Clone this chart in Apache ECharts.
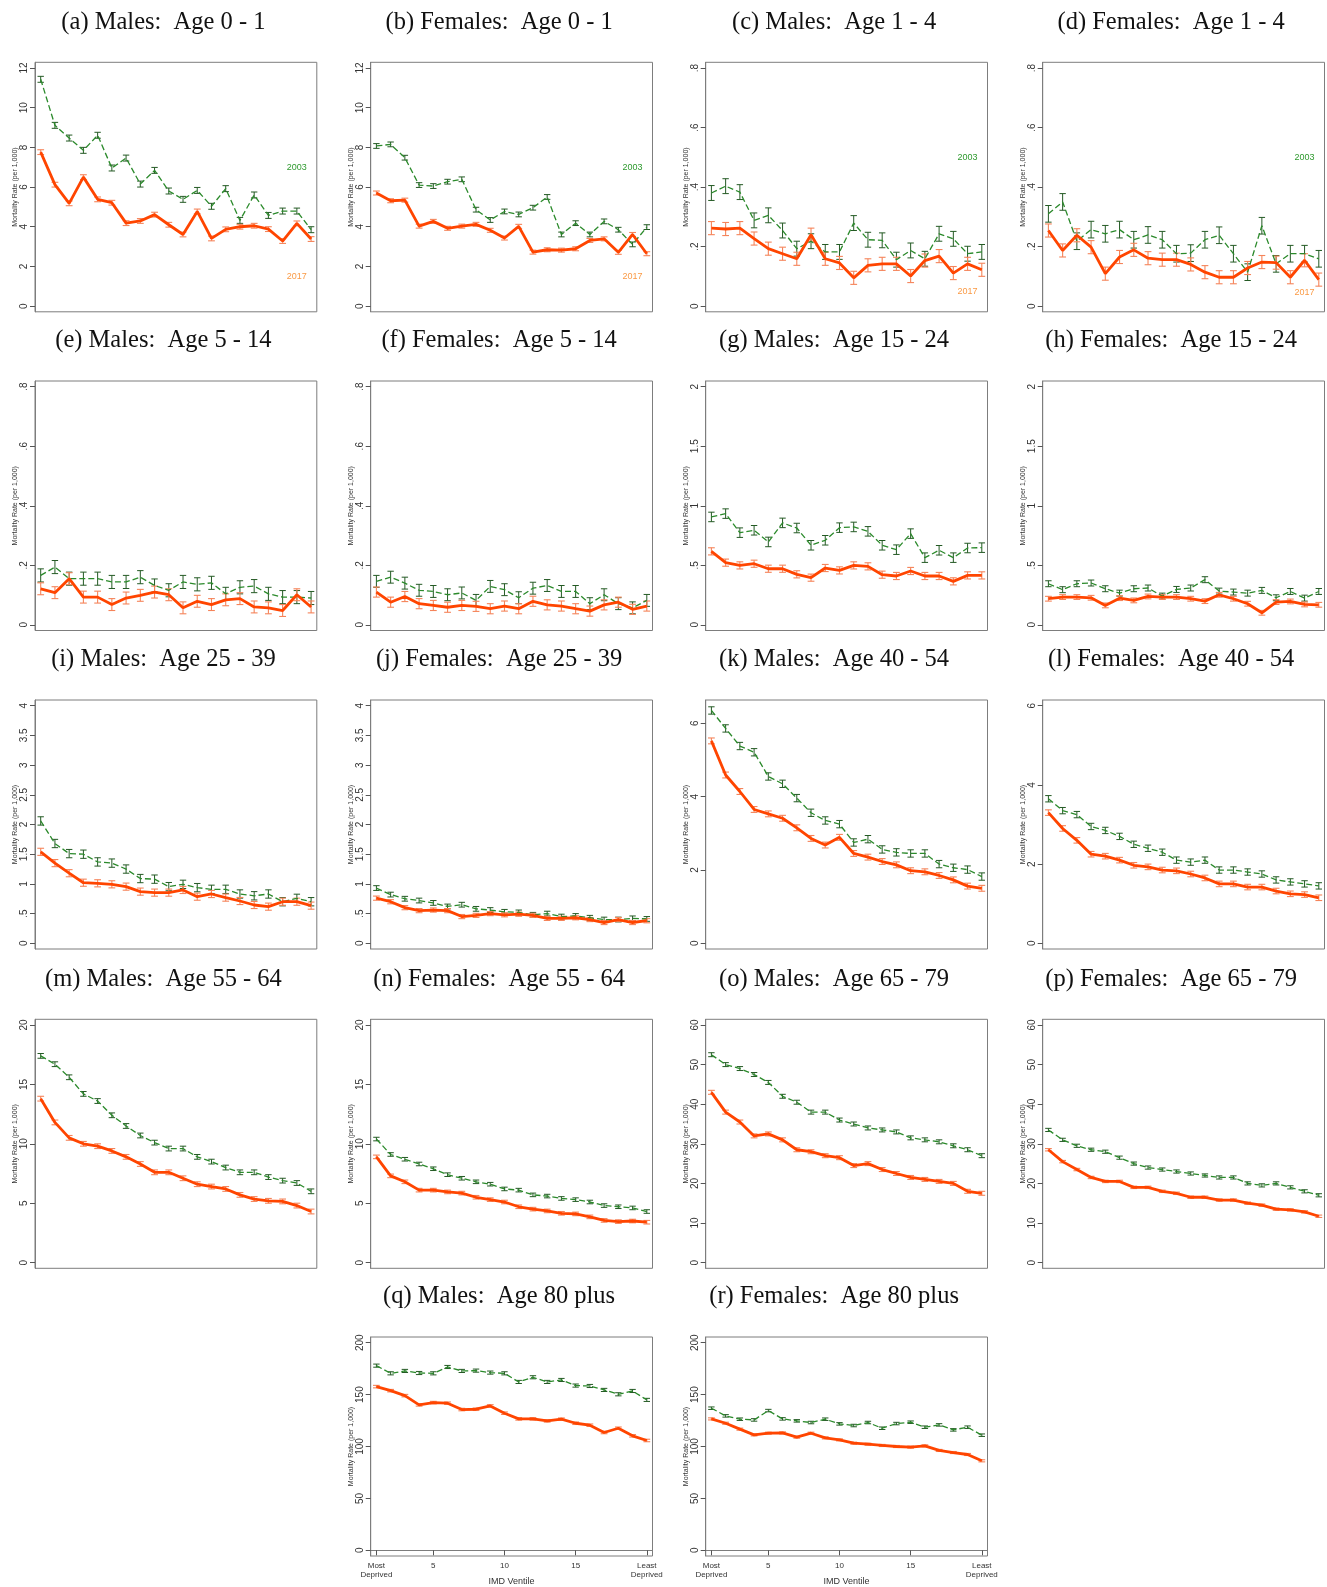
<!DOCTYPE html>
<html><head><meta charset="utf-8">
<script src="https://cdn.jsdelivr.net/npm/echarts@6/dist/echarts.min.js"></script>
<style>html,body{margin:0;padding:0;background:#fff}#c{width:1327px;height:1587px}</style>
</head><body><div id="c"></div>
<script>
// ---------- DATA ----------
const ventiles = [1,2,3,4,5,6,7,8,9,10,11,12,13,14,15,16,17,18,19,20];
const titles = [
  '(a) Males:  Age 0 - 1','(b) Females:  Age 0 - 1','(c) Males:  Age 1 - 4','(d) Females:  Age 1 - 4',
  '(e) Males:  Age 5 - 14','(f) Females:  Age 5 - 14','(g) Males:  Age 15 - 24','(h) Females:  Age 15 - 24',
  '(i) Males:  Age 25 - 39','(j) Females:  Age 25 - 39','(k) Males:  Age 40 - 54','(l) Females:  Age 40 - 54',
  '(m) Males:  Age 55 - 64','(n) Females:  Age 55 - 64','(o) Males:  Age 65 - 79','(p) Females:  Age 65 - 79',
  '(q) Males:  Age 80 plus','(r) Females:  Age 80 plus'
];
const a2003 = [11.43,9.11,8.47,7.85,8.61,6.96,7.46,6.15,6.84,5.80,5.38,5.83,5.03,5.92,4.32,5.60,4.57,4.79,4.79,3.85];
const a2017 = [7.76,6.12,5.18,6.50,5.38,5.21,4.18,4.29,4.61,4.10,3.61,4.77,3.41,3.87,4.00,4.05,3.88,3.28,4.17,3.38];
const b2003 = [8.07,8.15,7.48,6.10,6.05,6.27,6.39,4.86,4.34,4.77,4.62,4.96,5.50,3.61,4.18,3.61,4.27,3.85,3.11,3.98];
const b2017 = [5.70,5.31,5.34,4.03,4.27,3.92,4.03,4.12,3.82,3.43,4.02,2.72,2.84,2.82,2.89,3.31,3.39,2.71,3.61,2.64];
const c2003 = [.380,.403,.383,.288,.305,.254,.193,.218,.182,.182,.279,.223,.221,.156,.187,.159,.243,.226,.176,.182];
const c2017 = [.262,.259,.262,.227,.193,.176,.159,.240,.159,.145,.095,.137,.142,.142,.101,.153,.168,.111,.142,.122];
const d2003 = [.31,.35,.218,.257,.243,.257,.223,.239,.223,.176,.178,.223,.238,.176,.114,.27,.142,.176,.176,.159];
const d2017 = [.254,.187,.238,.198,.109,.165,.189,.161,.156,.156,.140,.114,.097,.097,.128,.148,.146,.097,.154,.089];
const e2003 = [.166,.194,.155,.155,.155,.144,.144,.160,.132,.116,.144,.136,.141,.104,.126,.13,.104,.093,.093,.09];
const e2017 = [.121,.108,.155,.093,.093,.068,.09,.099,.11,.101,.057,.079,.068,.084,.088,.06,.057,.048,.101,.06];
const f2003 = [.146,.16,.14,.116,.112,.101,.107,.082,.129,.118,.091,.123,.132,.112,.112,.071,.101,.071,.057,.082];
const f2017 = [.11,.076,.095,.071,.065,.059,.065,.062,.054,.063,.054,.079,.067,.063,.054,.046,.067,.076,.052,.063];
const g2003 = [.906,.934,.774,.794,.696,.856,.813,.668,.71,.816,.822,.785,.668,.631,.766,.564,.626,.564,.645,.648];
const g2017 = [.617,.522,.499,.513,.471,.471,.424,.396,.477,.457,.499,.491,.421,.41,.452,.41,.41,.365,.415,.415];
const h2003 = [.345,.295,.345,.351,.303,.266,.303,.309,.241,.297,.309,.379,.283,.275,.266,.289,.227,.28,.224,.28];
const h2017 = [.219,.233,.233,.227,.163,.224,.205,.238,.233,.233,.219,.199,.252,.219,.177,.101,.191,.196,.171,.168];
const i2003 = [2.06,1.68,1.51,1.50,1.37,1.35,1.25,1.09,1.08,.954,.993,.937,.909,.909,.83,.80,.83,.70,.757,.70];
const i2017 = [1.54,1.35,1.18,1.02,1.01,.993,.954,.87,.853,.853,.898,.785,.83,.769,.712,.645,.617,.70,.70,.634];
const j2003 = [.93,.82,.75,.72,.68,.62,.65,.58,.56,.53,.52,.48,.50,.45,.46,.43,.40,.40,.42,.41];
const j2017 = [.76,.70,.60,.55,.56,.55,.45,.47,.50,.48,.49,.47,.42,.42,.43,.40,.35,.40,.35,.38];
const k2003 = [6.35,5.86,5.38,5.21,4.55,4.35,3.96,3.56,3.35,3.25,2.75,2.84,2.56,2.48,2.45,2.45,2.16,2.06,2.01,1.82];
const k2017 = [5.52,4.59,4.14,3.65,3.53,3.41,3.15,2.86,2.68,2.89,2.45,2.35,2.23,2.14,1.98,1.95,1.85,1.73,1.56,1.50];
const l2003 = [3.65,3.35,3.25,2.95,2.85,2.7,2.5,2.4,2.3,2.1,2.05,2.1,1.85,1.85,1.8,1.75,1.6,1.55,1.5,1.45];
const l2017 = [3.3,2.9,2.6,2.25,2.2,2.1,1.97,1.93,1.85,1.83,1.75,1.65,1.5,1.5,1.42,1.42,1.32,1.25,1.23,1.15];
const m2003 = [17.4,16.7,15.6,14.2,13.6,12.4,11.5,10.7,10.1,9.6,9.6,8.9,8.5,8.0,7.6,7.6,7.2,6.9,6.7,6.0];
const m2017 = [13.8,11.8,10.5,10.0,9.8,9.4,8.9,8.3,7.6,7.6,7.1,6.6,6.4,6.2,5.7,5.35,5.2,5.15,4.8,4.3];
const n2003 = [10.4,9.1,8.7,8.3,7.9,7.4,7.1,6.8,6.6,6.2,6.1,5.7,5.6,5.4,5.3,5.1,4.8,4.7,4.6,4.3];
const n2017 = [8.9,7.3,6.8,6.1,6.1,5.95,5.85,5.5,5.3,5.1,4.7,4.5,4.35,4.15,4.1,3.85,3.55,3.45,3.5,3.4];
const o2003 = [52.5,50,49,47.5,45.5,42,40.5,38,38,36,35,34,33.5,33,31.5,31,30.5,29.5,28.5,27];
const o2017 = [43,38,35.5,32,32.5,31,28.5,28,27,26.5,24.5,25,23.5,22.5,21.5,21,20.5,20,18,17.5];
const p2003 = [33.5,31,29.5,28.5,28,26.5,25,24,23.5,23,22.5,22,21.5,21.5,20,19.5,20,19,18,17];
const p2017 = [28.5,25.5,23.5,21.5,20.5,20.5,19,19,18,17.5,16.5,16.5,15.8,15.8,15,14.5,13.5,13.3,12.8,11.7];
const q2003 = [177.9,170.5,172.8,170.8,170.5,176.6,172.8,173.1,171.2,170.5,162.2,166.7,162.2,164.1,158.7,158.3,154.5,150.3,153.5,144.9];
const q2017 = [157.7,153.8,149.0,140.1,142.3,141.7,135.6,135.9,139.1,132.1,126.6,126.6,124.7,126.3,122.4,120.5,113.5,117.6,110.3,105.8];
const r2003 = [136.9,129.5,126.3,125.6,134.6,126.6,124.7,123.1,126.3,121.8,120.2,123.1,117.6,122.1,123.4,118.6,120.8,116.0,118.6,110.9];
const r2017 = [126.6,122.4,116.7,111.2,112.8,113.1,109.0,112.8,108.3,106.4,103.2,102.2,101.0,100.0,99.4,100.6,96.2,94.2,92.3,86.2];

// half-width of the confidence interval, per panel
const err2003 = [.15,.12,.025,.028,.022,.02,.04,.025,.07,.04,.1,.08,.2,.15,.5,.4,1.5,1.2];
const err2017 = [.12,.1,.022,.022,.02,.017,.03,.02,.06,.035,.08,.07,.2,.15,.5,.3,1.2,1.0];

// y-axis extent (top of data range) and tick values per panel
const yTop = [12,12,.8,.8,.8,.8,2,2,4,4,6.48,6,20,20,60,60,200,200];
const ticks12 = [0,2,4,6,8,10,12];
const ticks08 = [0,.2,.4,.6,.8];
const ticks2 = [0,.5,1,1.5,2];
const ticks4 = [0,.5,1,1.5,2,2.5,3,3.5,4];
const ticks6 = [0,2,4,6];
const ticks20 = [0,5,10,15,20];
const ticks60 = [0,10,20,30,40,50,60];
const ticks200 = [0,50,100,150,200];
const yTicks = [ticks12,ticks12,ticks08,ticks08,ticks08,ticks08,ticks2,ticks2,ticks4,ticks4,ticks6,ticks6,ticks20,ticks20,ticks60,ticks60,ticks200,ticks200];

const xTickValues = [1,5,10,15,20];
const xTickLabels = ['Most\nDeprived','5','10','15','Least\nDeprived'];
const yearNames = ['2003','2017'];
const yearLabelX = 19;
const yearLabelY2003 = [7,7,.5,.5];
const yearLabelY2017 = [1.5,1.5,.05,.045];

const panelSeries = [
  [a2003,a2017],[b2003,b2017],[c2003,c2017],[d2003,d2017],
  [e2003,e2017],[f2003,f2017],[g2003,g2017],[h2003,h2017],
  [i2003,i2017],[j2003,j2017],[k2003,k2017],[l2003,l2017],
  [m2003,m2017],[n2003,n2017],[o2003,o2017],[p2003,p2017],
  [q2003,q2017],[r2003,r2017]
];

// ---------- LAYOUT / STYLE ----------
const colLeft = [35, 370.7, 705.7, 1042.7];
const rowTop = [62.3, 381, 700, 1019.3, 1337];
const rowH = [249.5, 249.5, 249, 249, 219];
const frameW = 281.8;
const PAD = 5.7;
const GREEN = '#2b8a2b', GREEN_BAR = '#245a24', RED = '#ff4500', RED_BAR = '#f5845a';
const LABEL_GREEN = '#2f9a2f', LABEL_ORANGE = '#fa9a45';
const SANS = '"Liberation Sans", Arial, Helvetica, sans-serif';

function fmt(v) {
  let s = String(Math.round(v * 1000) / 1000);
  return s.replace(/^0\./, '.');
}

function errRender(color, capHalf, lw) {
  return function (params, api) {
    const x = api.value(0), lo = api.value(1), hi = api.value(2);
    const p1 = api.coord([x, lo]), p2 = api.coord([x, hi]);
    const st = { stroke: color, lineWidth: lw };
    return { type: 'group', children: [
      { type: 'line', shape: { x1: p1[0], y1: p1[1], x2: p2[0], y2: p2[1] }, style: st },
      { type: 'line', shape: { x1: p1[0] - capHalf, y1: p1[1], x2: p1[0] + capHalf, y2: p1[1] }, style: st },
      { type: 'line', shape: { x1: p2[0] - capHalf, y1: p2[1], x2: p2[0] + capHalf, y2: p2[1] }, style: st }
    ]};
  };
}

const grids = [], xAxes = [], yAxes = [], series = [], graphics = [];

panelSeries.forEach((pair, i) => {
  let row, col;
  if (i < 16) { row = Math.floor(i / 4); col = i % 4; } else { row = 4; col = i - 15; }
  const left = colLeft[col], top = rowTop[row], h = rowH[row], w = frameW;
  const bottomRow = row === 4;
  const yPadU = yTop[i] * PAD / (h - 2 * PAD);
  const xPadU = 19 * PAD / (w - 2 * PAD);

  grids.push({ left: left, top: top, width: w, height: h, show: true,
    borderColor: '#7d7d7d', borderWidth: 1, backgroundColor: '#fff',
    containLabel: false, outerBoundsMode: 'none' });

  xAxes.push({
    type: 'value', gridIndex: i, min: 1 - xPadU, max: 20 + xPadU, show: bottomRow,
    splitLine: { show: false },
    axisLine: { show: true, lineStyle: { color: '#7d7d7d', width: 1 } },
    axisTick: { show: true, length: 5, customValues: xTickValues, lineStyle: { color: '#555' } },
    axisLabel: { show: true, customValues: xTickValues, margin: 5, fontSize: 8, lineHeight: 9,
      color: '#333', fontFamily: SANS, hideOverlap: false,
      formatter: v => { const k = xTickValues.indexOf(Math.round(v)); return k >= 0 ? xTickLabels[k] : ''; } },
    name: bottomRow ? 'IMD Ventile' : '', nameLocation: 'middle', nameGap: 21, nameMoveOverlap: false,
    nameTextStyle: { fontSize: 9, color: '#333', fontFamily: SANS }
  });

  yAxes.push({
    type: 'value', gridIndex: i, min: -yPadU, max: yTop[i] + yPadU,
    splitLine: { show: false },
    axisLine: { show: true, lineStyle: { color: '#7d7d7d', width: 1 } },
    axisTick: { show: true, length: 5, customValues: yTicks[i], lineStyle: { color: '#555' } },
    axisLabel: { show: true, customValues: yTicks[i], rotate: 90, margin: 5.5, fontSize: 10,
      color: '#333', fontFamily: SANS, hideOverlap: false, formatter: v => fmt(v) },
    name: 'Mortality Rate (per 1,000)', nameLocation: 'middle', nameGap: 16, nameMoveOverlap: false,
    nameTextStyle: { fontSize: 7, color: '#333', fontFamily: SANS }
  });

  const [d03, d17] = pair;
  series.push({
    type: 'line', xAxisIndex: i, yAxisIndex: i, data: ventiles.map((x, k) => [x, d03[k]]),
    symbol: 'none', silent: true,
    lineStyle: { color: GREEN, width: 1.3, type: [6, 3] }
  });
  series.push({
    type: 'custom', xAxisIndex: i, yAxisIndex: i, silent: true,
    data: ventiles.map((x, k) => [x, d03[k] - err2003[i], d03[k] + err2003[i]]),
    encode: { x: 0, y: [1, 2] },
    renderItem: errRender(GREEN_BAR, 3.2, 1)
  });
  series.push({
    type: 'line', xAxisIndex: i, yAxisIndex: i, data: ventiles.map((x, k) => [x, d17[k]]),
    symbol: 'none', silent: true,
    lineStyle: { color: RED, width: 2.8 }
  });
  series.push({
    type: 'custom', xAxisIndex: i, yAxisIndex: i, silent: true,
    data: ventiles.map((x, k) => [x, d17[k] - err2017[i], d17[k] + err2017[i]]),
    encode: { x: 0, y: [1, 2] },
    renderItem: errRender(RED_BAR, 3.4, 1.1)
  });

  if (i < 4) {
    [[yearLabelY2003[i], yearNames[0], LABEL_GREEN], [yearLabelY2017[i], yearNames[1], LABEL_ORANGE]].forEach(([yv, txt, colr]) => {
      series.push({
        type: 'scatter', xAxisIndex: i, yAxisIndex: i, silent: true, symbol: 'circle', symbolSize: 2,
        itemStyle: { color: 'rgba(255,255,255,0)' },
        data: [[yearLabelX, yv]],
        label: { show: true, position: 'inside', formatter: txt, color: colr, fontSize: 9, fontFamily: SANS, opacity: 1 },
        z: 5
      });
    });
  }

  graphics.push({
    type: 'text', x: left + w / 2 - 12.5, y: top - 40,
    style: { text: titles[i], font: '24.5px "Liberation Serif", "DejaVu Serif", serif',
      fill: '#111', textAlign: 'center', textVerticalAlign: 'middle' }
  });
});

const chart = echarts.init(document.getElementById('c'), null, { renderer: 'canvas' });
chart.setOption({
  animation: false,
  backgroundColor: '#fff',
  grid: grids, xAxis: xAxes, yAxis: yAxes, series: series,
  graphic: { elements: graphics }
});
</script>
</body></html>
